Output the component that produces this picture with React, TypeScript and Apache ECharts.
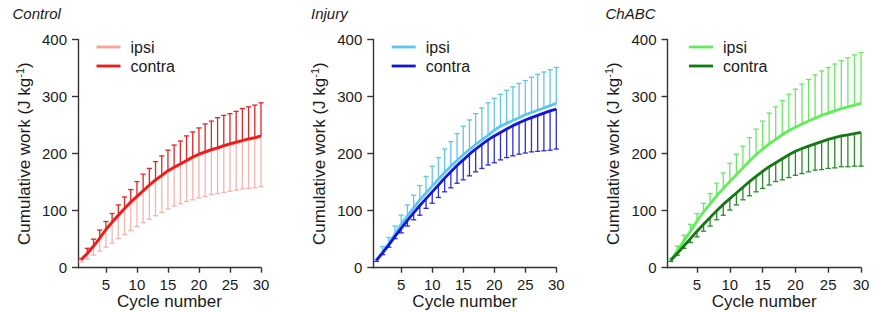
import React, { useEffect, useRef } from "react";
import * as echarts from "echarts";

const cycles = [1, 2, 3, 4, 5, 6, 7, 8, 9, 10, 11, 12, 13, 14, 15, 16, 17, 18, 19, 20, 21, 22, 23, 24, 25, 26, 27, 28, 29, 30];
const xTickValues = [5, 10, 15, 20, 25, 30];
const panelTitles = ["Control", "Injury", "ChABC"];
const groupLabels = ["ipsi", "contra"];

// Control
const controlIpsiMean = [13, 24, 37, 51, 66, 79, 91, 103, 114, 124, 134, 144, 153, 161, 169, 175, 181, 187, 193, 198, 202, 206, 209, 213, 216, 219, 222, 225, 227, 230];
const controlIpsiSD = [3, 9, 15, 22, 30, 36, 40, 45, 49, 52, 55, 59, 62, 64, 66, 67, 69, 71, 74, 76, 77, 78, 79, 81, 82, 83, 84, 86, 87, 88];
const controlContraMean = [14, 25, 38, 52, 67, 80, 92, 104, 115, 125, 135, 145, 154, 162, 170, 176, 182, 188, 194, 199, 203, 207, 210, 214, 217, 220, 223, 226, 228, 231];
const controlContraSD = [2, 9, 12, 14, 14, 15, 18, 20, 22, 26, 29, 29, 32, 34, 36, 39, 40, 43, 44, 46, 49, 50, 53, 53, 53, 54, 56, 56, 57, 58];

// Injury
const injuryIpsiMean = [13, 27, 42, 59, 76, 91, 105, 119, 131, 143, 155, 167, 178, 188, 198, 207, 216, 224, 232, 241, 248, 253, 258, 263, 268, 272, 276, 280, 284, 288];
const injuryIpsiSD = [2, 10, 11, 14, 16, 19, 22, 25, 29, 35, 38, 41, 43, 47, 50, 52, 54, 56, 57, 56, 56, 58, 59, 60, 60, 62, 63, 63, 63, 63];
const injuryContraMean = [13, 26, 40, 55, 69, 83, 96, 109, 121, 133, 145, 157, 168, 179, 189, 199, 208, 216, 224, 231, 237, 243, 249, 254, 259, 263, 267, 271, 275, 278];
const injuryContraSD = [2, 3, 4, 4, 8, 10, 12, 17, 17, 20, 22, 24, 28, 31, 35, 38, 40, 42, 44, 47, 48, 50, 53, 55, 58, 60, 63, 66, 69, 70];

// ChABC
const chabcIpsiMean = [13, 30, 47, 64, 82, 98, 112, 126, 139, 151, 163, 175, 187, 198, 208, 217, 225, 233, 240, 246, 252, 257, 262, 267, 271, 275, 279, 282, 285, 288];
const chabcIpsiSD = [3, 8, 10, 12, 13, 15, 18, 22, 27, 32, 36, 38, 41, 45, 49, 54, 57, 60, 64, 67, 70, 73, 76, 78, 80, 82, 84, 86, 88, 89];
const chabcContraMean = [13, 25, 38, 51, 64, 76, 88, 100, 111, 121, 131, 141, 151, 160, 169, 177, 184, 191, 198, 204, 209, 213, 217, 221, 225, 228, 231, 233, 235, 237];
const chabcContraSD = [2, 3, 4, 7, 10, 12, 15, 16, 19, 20, 21, 22, 25, 27, 30, 32, 33, 37, 40, 42, 44, 45, 46, 49, 51, 53, 54, 56, 57, 59];

const FONT = "'Liberation Sans', Arial, Helvetica, sans-serif";
const TEXT = "#1a1a1a";
const AXIS = "#333333";

type Panel = {
  title: string;
  left: number;
  width: number;
  legendLeft: number;
  ipsi: { mean: number[]; sd: number[]; dir: number; line: string; bar: string };
  contra: { mean: number[]; sd: number[]; dir: number; line: string; bar: string };
};

const panels: Panel[] = [
  {
    title: panelTitles[0],
    left: 78,
    width: 183,
    legendLeft: 96.5,
    ipsi: { mean: controlIpsiMean, sd: controlIpsiSD, dir: -1, line: "#f5a5a0", bar: "#f6b4ae" },
    contra: { mean: controlContraMean, sd: controlContraSD, dir: 1, line: "#ee1b1b", bar: "#e52424" },
  },
  {
    title: panelTitles[1],
    left: 373.3,
    width: 183,
    legendLeft: 391.7,
    ipsi: { mean: injuryIpsiMean, sd: injuryIpsiSD, dir: 1, line: "#5cc6f2", bar: "#62c4ef" },
    contra: { mean: injuryContraMean, sd: injuryContraSD, dir: -1, line: "#1414de", bar: "#2e2ed8" },
  },
  {
    title: panelTitles[2],
    left: 667.5,
    width: 193.5,
    legendLeft: 689,
    ipsi: { mean: chabcIpsiMean, sd: chabcIpsiSD, dir: 1, line: "#60ee58", bar: "#6aea62" },
    contra: { mean: chabcContraMean, sd: chabcContraSD, dir: -1, line: "#137a13", bar: "#2a8a2a" },
  },
];

function errorBars(name: string, idx: number, mean: number[], sd: number[], dir: number, color: string) {
  return {
    type: "custom",
    name,
    xAxisIndex: idx,
    yAxisIndex: idx,
    silent: true,
    z: 2,
    data: cycles.map((c, i) => [c, mean[i], mean[i] + dir * sd[i]]),
    encode: { x: 0, y: [1, 2] },
    renderItem: (_params: any, api: any) => {
      const p0 = api.coord([api.value(0), api.value(1)]);
      const p1 = api.coord([api.value(0), api.value(2)]);
      const hw = 2.6;
      return {
        type: "group",
        children: [
          { type: "line", shape: { x1: p0[0], y1: p0[1], x2: p1[0], y2: p1[1] }, style: { stroke: color, lineWidth: 1.3 } },
          { type: "line", shape: { x1: p1[0] - hw, y1: p1[1], x2: p1[0] + hw, y2: p1[1] }, style: { stroke: color, lineWidth: 1.3 } },
        ],
      };
    },
  };
}

function meanLine(name: string, idx: number, mean: number[], color: string) {
  return {
    type: "line",
    name,
    xAxisIndex: idx,
    yAxisIndex: idx,
    z: 3,
    symbol: "none",
    showSymbol: false,
    silent: true,
    itemStyle: { color },
    lineStyle: { color, width: 2.8 },
    data: cycles.map((c, i) => [c, mean[i]]),
  };
}

export default function App() {
  const ref = useRef<HTMLDivElement>(null);

  useEffect(() => {
    if (!ref.current) return;
    const chart = echarts.init(ref.current, undefined, { renderer: "svg" });

    const series: any[] = [];
    panels.forEach((p, i) => {
      series.push(errorBars(p.title + " ipsi SD", i, p.ipsi.mean, p.ipsi.sd, p.ipsi.dir, p.ipsi.bar));
      series.push(errorBars(p.title + " contra SD", i, p.contra.mean, p.contra.sd, p.contra.dir, p.contra.bar));
      series.push(meanLine(p.title + " " + groupLabels[0], i, p.ipsi.mean, p.ipsi.line));
      series.push(meanLine(p.title + " " + groupLabels[1], i, p.contra.mean, p.contra.line));
    });

    const option: any = {
      animation: false,
      textStyle: { fontFamily: FONT, color: TEXT },
      title: panels.map((p, i) => ({
        text: p.title,
        left: [12.5, 311, 605.5][i],
        top: 5.5,
        padding: 0,
        textStyle: { fontFamily: FONT, fontStyle: "italic", fontWeight: "normal", fontSize: 15, color: TEXT },
      })),
      legend: panels.map((p) => ({
        left: p.legendLeft,
        top: 39,
        orient: "vertical",
        padding: 0,
        itemGap: 3,
        itemWidth: 24,
        itemHeight: 2.8,
        icon: "rect",
        selectedMode: false,
        data: [p.title + " " + groupLabels[0], p.title + " " + groupLabels[1]],
        formatter: (n: string) => n.split(" ")[1],
        textStyle: { fontFamily: FONT, fontSize: 16, color: TEXT, padding: [0, 0, 0, 5] },
      })),
      grid: panels.map((p) => ({
        left: p.left,
        width: p.width,
        top: 39.5,
        height: 228.2,
        containLabel: false,
        outerBoundsMode: "none",
      })),
      xAxis: panels.map((_p, i) => ({
        type: "value",
        gridIndex: i,
        min: 0.5,
        max: 30,
        name: "Cycle number",
        nameLocation: "middle",
        nameGap: 25,
        nameMoveOverlap: false,
        nameTextStyle: { fontFamily: FONT, fontSize: 17, color: TEXT },
        splitLine: { show: false },
        axisLine: { show: true, lineStyle: { color: AXIS, width: 1.4 } },
        axisTick: { show: true, customValues: xTickValues, length: 5, lineStyle: { color: AXIS, width: 1.4 } },
        axisLabel: { customValues: xTickValues, fontFamily: FONT, fontSize: 15, color: TEXT, margin: 9 },
      })),
      yAxis: panels.map((_p, i) => ({
        type: "value",
        gridIndex: i,
        min: 0,
        max: 400,
        interval: 100,
        name: "Cumulative work (J kg{sup|-1})",
        nameLocation: "middle",
        nameGap: 44,
        nameMoveOverlap: false,
        nameRotate: 90,
        nameTextStyle: {
          fontFamily: FONT,
          fontSize: 17,
          color: TEXT,
          lineHeight: 20,
          rich: { sup: { fontFamily: FONT, fontSize: 11, color: TEXT, verticalAlign: "top", lineHeight: 12 } },
        },
        splitLine: { show: false },
        axisLine: { show: true, lineStyle: { color: AXIS, width: 1.4 } },
        axisTick: { show: true, length: 6, lineStyle: { color: AXIS, width: 1.4 } },
        axisLabel: { fontFamily: FONT, fontSize: 15, color: TEXT, margin: 11 },
      })),
      series,
    };

    chart.setOption(option);
    return () => chart.dispose();
  }, []);

  return (
    <div
      ref={ref}
      style={{ position: "fixed", left: 0, top: 0, width: 882, height: 312, background: "#ffffff" }}
    />
  );
}
